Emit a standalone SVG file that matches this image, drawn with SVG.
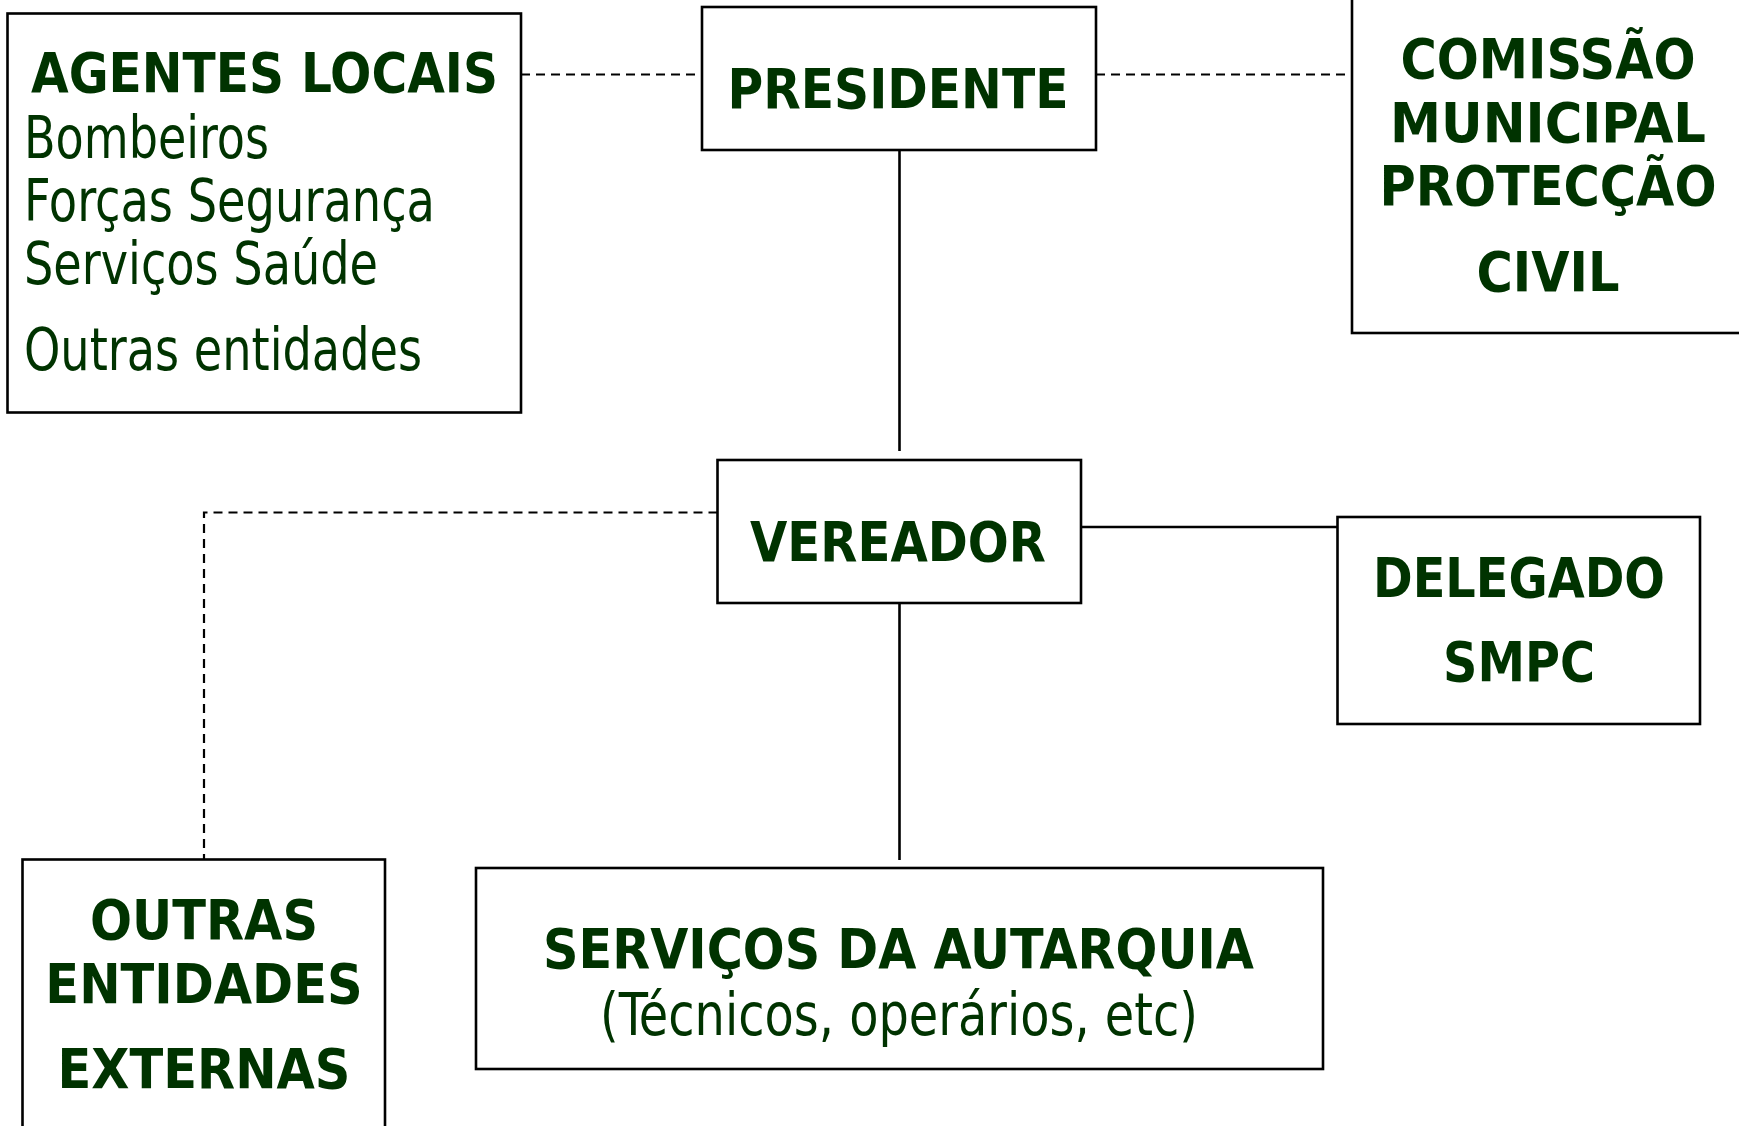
<svg xmlns="http://www.w3.org/2000/svg" width="1739" height="1126" viewBox="0 0 1739 1126">
<style>
.box{fill:#ffffff;stroke:#000000;stroke-width:2.6}
.t{font-family:"DejaVu Sans Condensed","DejaVu Sans",sans-serif;fill:#003300;font-size:55px}
.r{font-size:58px}
.b{font-weight:bold}
.c{text-anchor:middle}
.solid{stroke:#000000;stroke-width:2.6;fill:none}
.dash{stroke:#000000;stroke-width:2.2;fill:none;stroke-dasharray:9 6}
</style>
<rect width="1739" height="1126" fill="#ffffff"/>
<g id="connectors">
<line class="dash" x1="521" y1="74.5" x2="702" y2="74.5"/>
<line class="dash" x1="1096" y1="74.5" x2="1352" y2="74.5"/>
<line class="solid" x1="899.5" y1="150" x2="899.5" y2="451"/>
<polyline class="dash" points="717.5,512.5 204,512.5 204,859.5"/>
<line class="solid" x1="1081" y1="527" x2="1337.5" y2="527"/>
<line class="solid" x1="899.5" y1="603" x2="899.5" y2="860"/>
</g>
<g id="agentes-locais">
<rect class="box" x="7.5" y="13.5" width="513.5" height="399"/>
<text class="t b" x="31" y="92" textLength="467" lengthAdjust="spacingAndGlyphs">AGENTES LOCAIS</text>
<text class="t r" x="24" y="157.5" textLength="245" lengthAdjust="spacingAndGlyphs">Bombeiros</text>
<text class="t r" x="24" y="220.5" textLength="411" lengthAdjust="spacingAndGlyphs">Forças Segurança</text>
<text class="t r" x="24" y="284" textLength="354" lengthAdjust="spacingAndGlyphs">Serviços Saúde</text>
<text class="t r" x="24" y="370" textLength="398" lengthAdjust="spacingAndGlyphs">Outras entidades</text>
</g>
<g id="presidente">
<rect class="box" x="702" y="7" width="394" height="143"/>
<text class="t b" x="727.5" y="107.5" textLength="341" lengthAdjust="spacingAndGlyphs">PRESIDENTE</text>
</g>
<g id="comissao">
<rect class="box" x="1352" y="-5" width="400" height="338"/>
<text class="t b c" x="1548" y="77.5">COMISSÃO</text>
<text class="t b c" x="1548" y="142" textLength="316" lengthAdjust="spacingAndGlyphs">MUNICIPAL</text>
<text class="t b c" x="1548" y="205">PROTECÇÃO</text>
<text class="t b c" x="1548" y="290.5">CIVIL</text>
</g>
<g id="vereador">
<rect class="box" x="717.5" y="460" width="363.5" height="143"/>
<text class="t b" x="750" y="561" textLength="296" lengthAdjust="spacingAndGlyphs">VEREADOR</text>
</g>
<g id="delegado">
<rect class="box" x="1337.5" y="517" width="362.5" height="207"/>
<text class="t b" x="1373" y="596.5" textLength="292" lengthAdjust="spacingAndGlyphs">DELEGADO</text>
<text class="t b" x="1443" y="681" textLength="152" lengthAdjust="spacingAndGlyphs">SMPC</text>
</g>
<g id="outras-entidades-externas">
<rect class="box" x="22.5" y="859.5" width="362.5" height="280"/>
<text class="t b c" x="204" y="939">OUTRAS</text>
<text class="t b c" x="204" y="1002.5">ENTIDADES</text>
<text class="t b c" x="204" y="1088">EXTERNAS</text>
</g>
<g id="servicos-autarquia">
<rect class="box" x="476" y="868" width="847" height="201"/>
<text class="t b" x="543" y="968" textLength="711" lengthAdjust="spacingAndGlyphs">SERVIÇOS DA AUTARQUIA</text>
<text class="t r" x="600" y="1035" textLength="598" lengthAdjust="spacingAndGlyphs">(Técnicos, operários, etc)</text>
</g>
</svg>
